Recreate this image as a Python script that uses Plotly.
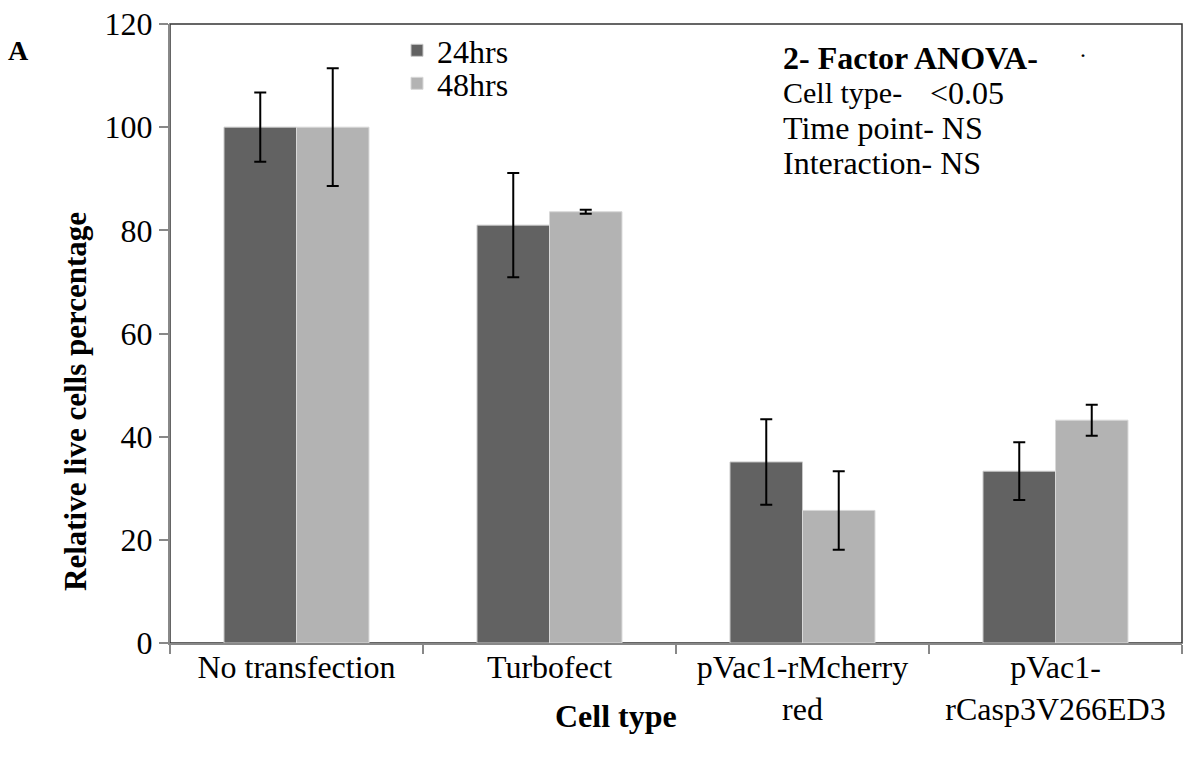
import plotly.graph_objects as go

categories = ["No transfection", "Turbofect", "pVac1-rMcherry<br>red", "pVac1-<br>rCasp3V266ED3"]
series_names = ["24hrs", "48hrs"]
values_24 = [100.0, 81.0, 35.1, 33.3]
errors_24 = [6.7, 10.1, 8.3, 5.6]
values_48 = [100.0, 83.6, 25.7, 43.2]
errors_48 = [11.4, 0.4, 7.6, 3.0]
y_ticks = [0, 20, 40, 60, 80, 100, 120]

anova_title = "<b>2- Factor ANOVA-</b>"
anova_rows = [("Cell type-", "&lt;0.05"), ("Time point- NS", ""), ("Interaction- NS", "")]

FONT = "Liberation Serif, Times New Roman, serif"
FS = 32

W, H = 1183, 760
L, R, T, B = 170, 1, 24, 117
pw, ph = W - L - R, H - T - B

def px(x):
    return (x - L) / pw

def py(y):
    return 1 - (y - T) / ph

fig = go.Figure()
fig.add_trace(go.Bar(
    x=categories, y=values_24, name=series_names[0], legend="legend",
    marker=dict(color="#626262", line=dict(color="#c8c8c8", width=1)),
    error_y=dict(type="data", array=errors_24, color="black", thickness=2, width=6),
))
fig.add_trace(go.Bar(
    x=categories, y=values_48, name=series_names[1], legend="legend2",
    marker=dict(color="#b3b3b3", line=dict(color="#d8d8d8", width=1)),
    error_y=dict(type="data", array=errors_48, color="black", thickness=2, width=6),
))

def ann(x, y, text, size, **kw):
    d = dict(x=px(x), y=py(y), xref="paper", yref="paper", text=text,
             showarrow=False, xanchor="left", yanchor="middle",
             font=dict(family=FONT, size=size, color="black"))
    d.update(kw)
    return d

annotations = [ann(781, 58, anova_title, FS)]
ys = [93, 128, 163]
for (a, b), yy in zip(anova_rows, ys):
    if b:
        annotations.append(ann(781, yy, a, 30))
        annotations.append(ann(928, yy, b, FS))
    else:
        annotations.append(ann(781, yy, a, FS))
annotations.append(ann(1083, 55, "·", 24, xanchor="center"))
annotations.append(ann(616, 716, "<b>Cell type</b>", FS, xanchor="center"))
annotations.append(ann(75, 402, "<b>Relative live cells percentage</b>", 31,
                       xanchor="center", textangle=-90))
annotations.append(ann(18, 50, "<b>A</b>", 28, xanchor="center"))

legend_common = dict(xanchor="left", yanchor="top",
                     font=dict(family=FONT, size=FS, color="black"),
                     bgcolor="rgba(0,0,0,0)", tracegroupgap=0, itemwidth=30)

fig.update_layout(
    width=W, height=H,
    margin=dict(l=L, r=R, t=T, b=B),
    paper_bgcolor="white", plot_bgcolor="white",
    barmode="group", bargap=0.427, bargroupgap=0,
    font=dict(family=FONT, size=FS, color="black"),
    showlegend=True,
    legend=dict(x=px(397), y=py(23), **legend_common),
    legend2=dict(x=px(397), y=py(56), **legend_common),
    annotations=annotations,
    shapes=[dict(type="rect", xref="paper", yref="paper", x0=0, x1=1, y0=0, y1=1,
                 line=dict(color="#333333", width=1.5), layer="below")],
)
fig.update_xaxes(
    type="category", tickson="boundaries", ticks="outside", ticklen=9,
    tickcolor="#888888", tickwidth=1.5,
    showline=True, linecolor="#888888", linewidth=2,
    tickfont=dict(family=FONT, size=FS, color="black"),
    showgrid=False, zeroline=False,
)
try:
    fig.update_xaxes(ticklabelstandoff=-5)
except Exception:
    pass
fig.update_yaxes(
    range=[0, 120], tickvals=y_ticks, ticks="outside", ticklen=9,
    tickcolor="#888888", tickwidth=1.5,
    showline=True, linecolor="#888888", linewidth=2,
    tickfont=dict(family=FONT, size=FS, color="black"),
    showgrid=False, zeroline=False,
)

fig.write_html("out.html")
